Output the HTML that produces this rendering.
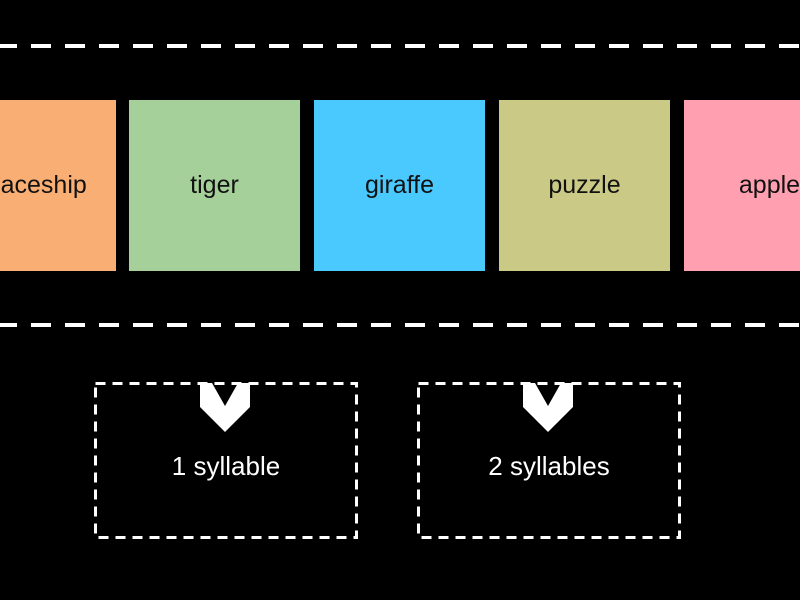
<!DOCTYPE html>
<html><head><style>
body{margin:0;width:800px;height:600px;background:#000;overflow:hidden;position:relative;font-family:"Liberation Sans",sans-serif}
.t{position:absolute;top:100px;width:171px;height:171px;display:flex;align-items:center;justify-content:center;font-size:25px;color:#111}
.l{position:absolute;color:#fff;font-size:26px;width:262px;text-align:center;top:451px}
</style></head><body>
<svg width="800" height="600" style="position:absolute;left:0;top:0">
<line x1="-3" y1="46" x2="800" y2="46" stroke="#fff" stroke-width="4" stroke-dasharray="20 14"/>
<line x1="-3" y1="325" x2="800" y2="325" stroke="#fff" stroke-width="4" stroke-dasharray="20 14"/>
<rect x="95.5" y="383.5" width="261" height="154" fill="none" stroke="#fff" stroke-width="3" stroke-dasharray="10 7"/>
<rect x="418.5" y="383.5" width="261" height="154" fill="none" stroke="#fff" stroke-width="3" stroke-dasharray="10 7"/>
<polygon points="200,383 212,383 225,406 238,383 250,383 250,407 225,432 200,407" fill="#fff"/>
<polygon points="523,383 535,383 548,406 561,383 573,383 573,407 548,432 523,407" fill="#fff"/>
</svg>
<div class="t" style="left:-55px;background:#f9ae74">spaceship</div>
<div class="t" style="left:129px;background:#a6d09a">tiger</div>
<div class="t" style="left:314px;background:#4ac9ff">giraffe</div>
<div class="t" style="left:499px;background:#cbc986">puzzle</div>
<div class="t" style="left:684px;background:#ff9fb0">apple</div>
<div class="l" style="left:95px">1 syllable</div>
<div class="l" style="left:418px">2 syllables</div>
</body></html>
